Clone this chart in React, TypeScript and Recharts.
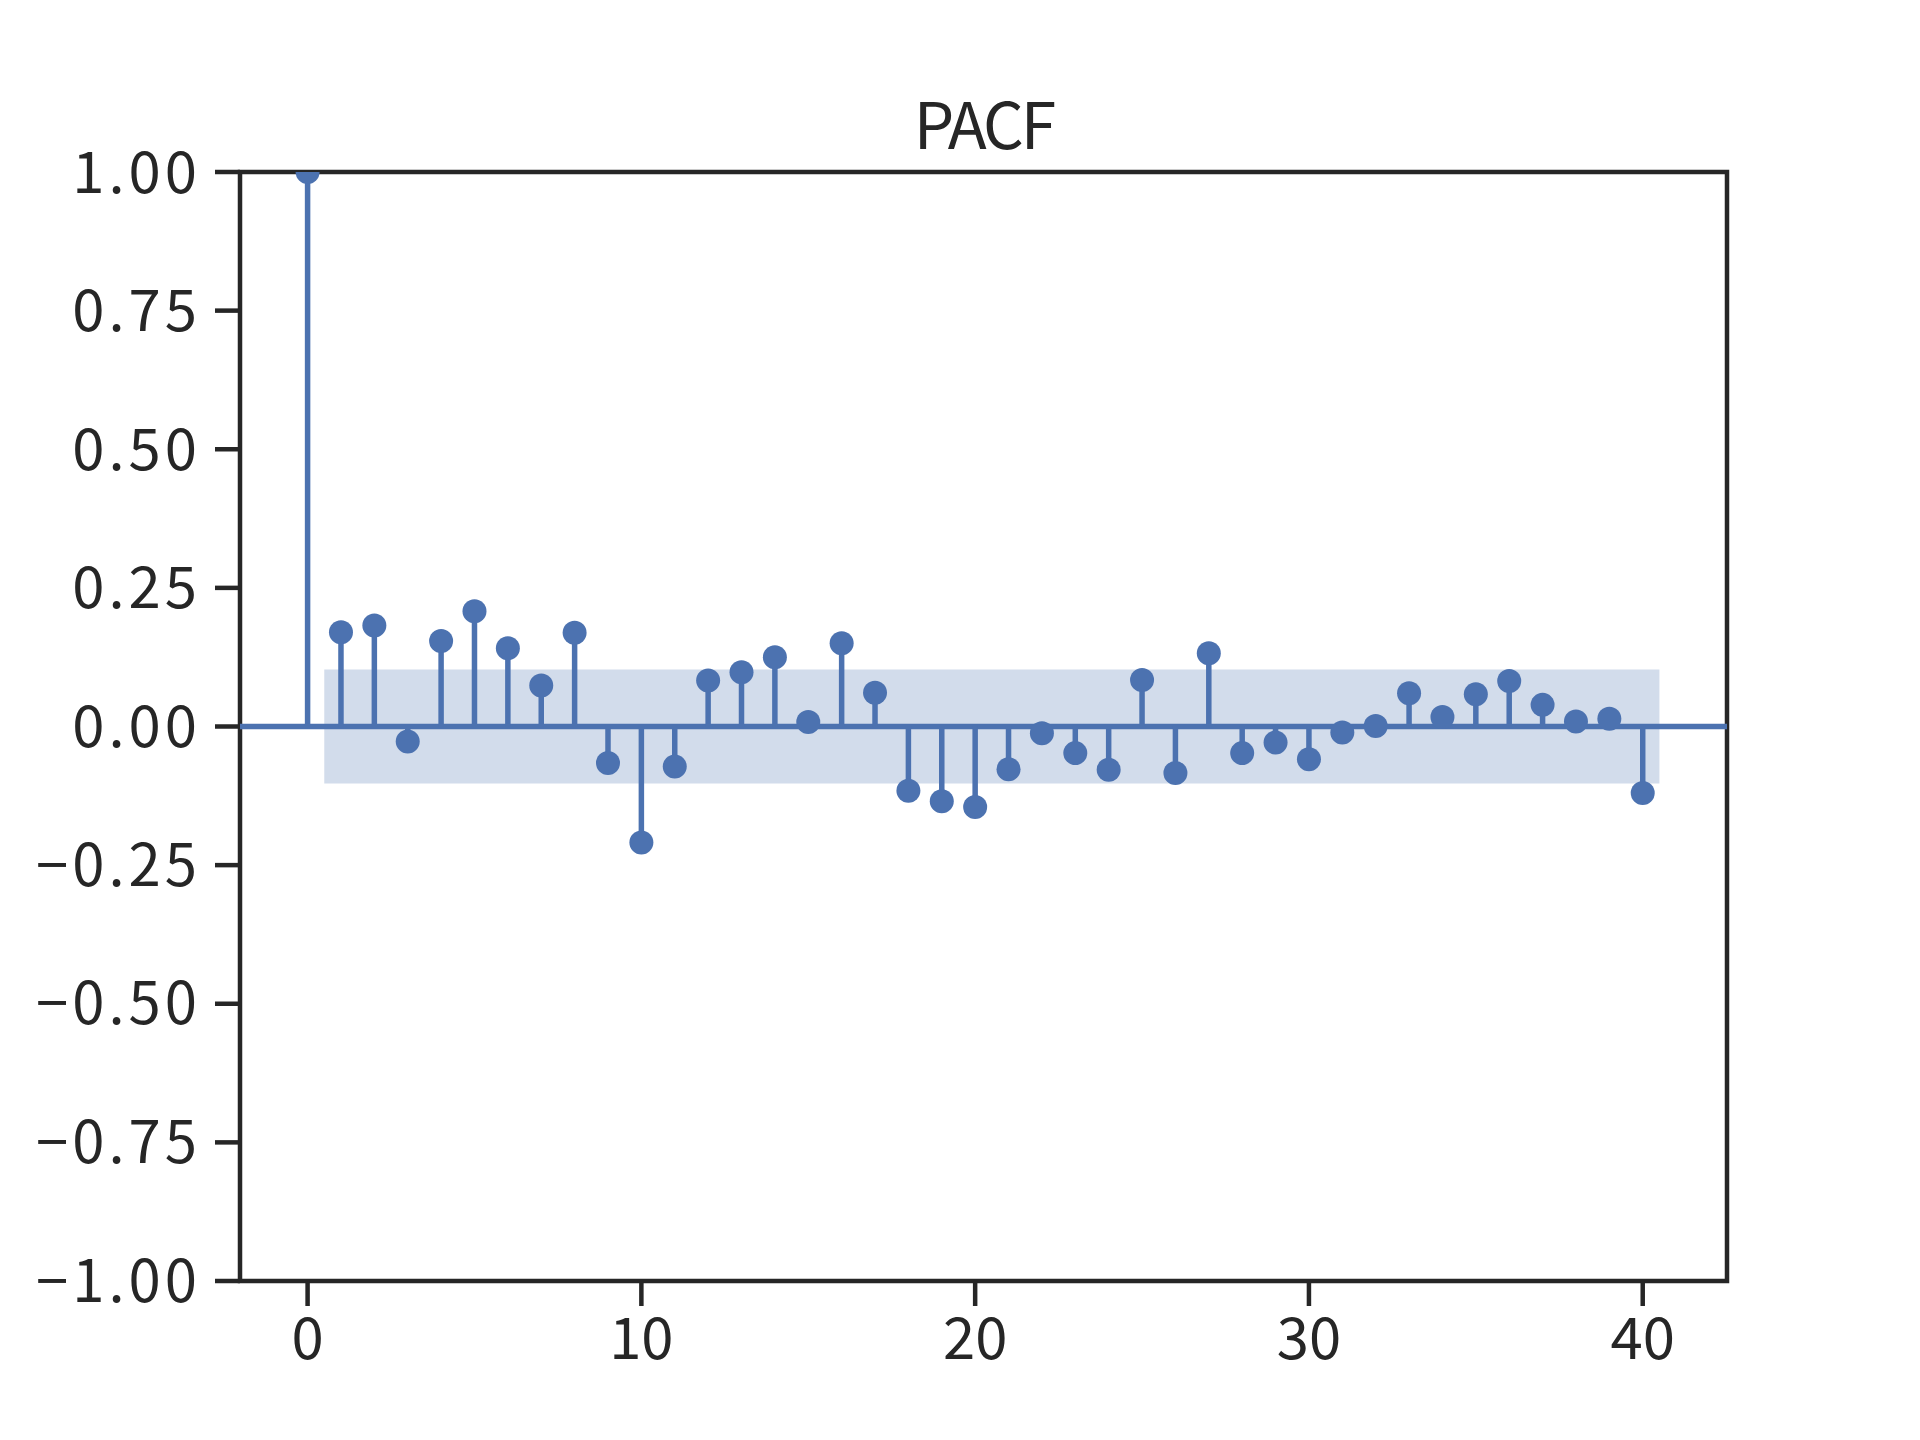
import React from 'react';
import { ScatterChart, Scatter, XAxis, YAxis, ReferenceLine, ReferenceArea } from 'recharts';

const LAGS = Array.from({ length: 41 }, (_, i) => i);
const PACF_VALUES = [
  1.0, 0.170, 0.182, -0.027, 0.154, 0.208, 0.141, 0.074, 0.169, -0.066,
  -0.209, -0.072, 0.083, 0.098, 0.125, 0.008, 0.150, 0.061, -0.116, -0.135,
  -0.145, -0.077, -0.012, -0.048, -0.078, 0.084, -0.084, 0.132, -0.048, -0.029,
  -0.059, -0.011, 0.001, 0.060, 0.017, 0.058, 0.082, 0.039, 0.009, 0.014,
  -0.120,
];
const CONF_BOUND = 0.103;
const CONF_X_START = 0.5;
const CONF_X_END = 40.5;
const X_TICKS = [0, 10, 20, 30, 40];
const Y_TICKS = [-1, -0.75, -0.5, -0.25, 0, 0.25, 0.5, 0.75, 1];
const X_DOMAIN: [number, number] = [-2.025, 42.525];
const Y_DOMAIN: [number, number] = [-1, 1];
const TITLE = 'PACF';

const BLUE = '#4c72b0';
const DARK = '#262626';
const FONT = '"Noto Sans CJK SC", "Noto Sans", sans-serif';

const data = LAGS.map((lag, i) => ({ lag, value: PACF_VALUES[i] }));

const fmtY = (v: number) => (v < 0 ? '\u2212' : '') + Math.abs(v).toFixed(2);

const Dot = (props: any) => {
  const { cx, cy } = props;
  if (cx == null || cy == null) return null;
  return <circle cx={cx} cy={cy} r={12} fill={BLUE} />;
};

export default function App() {
  return (
    <div style={{ position: 'absolute', left: 0, top: 0, width: 1920, height: 1440, background: '#fff' }}>
      <div
        style={{
          position: 'absolute',
          left: 783.5,
          width: 400,
          top: 89,
          textAlign: 'center',
          fontFamily: FONT,
          fontSize: 64,
          lineHeight: 1,
          letterSpacing: -3,
          color: DARK,
        }}
      >
        {TITLE}
      </div>
      <ScatterChart
        width={1920}
        height={1440}
        margin={{ top: 172, right: 193, bottom: 59, left: 40 }}
      >
        <XAxis
          type="number"
          dataKey="lag"
          domain={X_DOMAIN}
          ticks={X_TICKS}
          allowDataOverflow
          height={100}
          axisLine={false}
          tickLine={{ stroke: DARK, strokeWidth: 4.5 }}
          tickSize={25}
          tickMargin={12}
          tick={{ fill: DARK, fontSize: 58, fontFamily: FONT }}
        />
        <YAxis
          type="number"
          dataKey="value"
          domain={Y_DOMAIN}
          ticks={Y_TICKS}
          allowDataOverflow
          width={200}
          axisLine={false}
          tickLine={{ stroke: DARK, strokeWidth: 4.5 }}
          tickSize={25}
          tickMargin={14}
          tickFormatter={fmtY}
          tick={{ fill: DARK, fontSize: 58, fontFamily: FONT, letterSpacing: 4 }}
        />
        <ReferenceArea
          x1={CONF_X_START}
          x2={CONF_X_END}
          y1={-CONF_BOUND}
          y2={CONF_BOUND}
          fill={BLUE}
          fillOpacity={0.25}
          stroke="none"
        />
        <ReferenceLine y={0} stroke={BLUE} strokeWidth={5.5} />
        {data.map((d) => (
          <ReferenceLine
            key={d.lag}
            segment={[
              { x: d.lag, y: 0 },
              { x: d.lag, y: d.value },
            ]}
            stroke={BLUE}
            strokeWidth={5.5}
          />
        ))}
        <Scatter data={data} fill={BLUE} shape={<Dot />} isAnimationActive={false} />
        <ReferenceArea
          x1={X_DOMAIN[0]}
          x2={X_DOMAIN[1]}
          y1={Y_DOMAIN[0]}
          y2={Y_DOMAIN[1]}
          fill="none"
          stroke={DARK}
          strokeWidth={4.5}
        />
      </ScatterChart>
    </div>
  );
}
